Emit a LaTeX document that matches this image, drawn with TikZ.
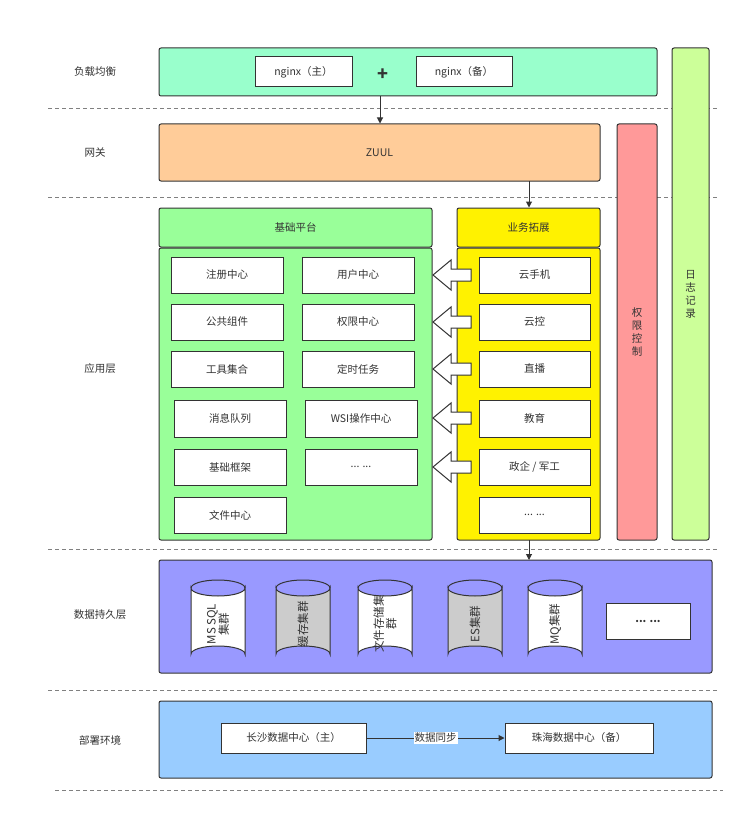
\documentclass[tikz,border=0pt]{standalone}
\usepackage{fontspec}
\setmainfont{Noto Sans CJK SC}
\usetikzlibrary{arrows.meta}
\definecolor{ln}{HTML}{333333}
\definecolor{tx}{HTML}{333333}
\tikzset{
 box/.style={draw=ln,line width=1pt,fill=white,text=tx,font=\fontsize{10.5}{12}\selectfont},
 panel/.style={draw=ln,line width=1pt,rounded corners=2pt},
 lab/.style={text=tx,font=\fontsize{10.5}{12}\selectfont},
 sep/.style={draw=gray,dash pattern=on 4pt off 3pt,line width=0.6pt},
 arr/.style={draw=ln,line width=1pt,-{Triangle[length=6pt,width=6pt]}},
 bar/.style={draw=ln,fill=white,line width=1pt}
}
\begin{document}
\begin{tikzpicture}[x=1pt,y=-1pt]
\useasboundingbox (0,0) rectangle (755,832);
% separators
\draw[sep] (48,108)--(718,108);
\draw[sep] (48,197)--(718,197);
\draw[sep] (48,549)--(718,549);
\draw[sep] (48,690)--(718,690);
\draw[sep] (55,790)--(723,790);
% layer labels
\node[lab] (l1) at (95,72) {负载均衡};
\node[lab] (l2) at (95,153) {网关};
\node[lab] (l3) at (100,369) {应用层};
\node[lab] (l4) at (100,615) {数据持久层};
\node[lab] (l5) at (100,740) {部署环境};
% load balancer
\draw[panel,fill={rgb,255:red,153;green,255;blue,204}] (159,48) rectangle (657,96);
\node[box,minimum width=97pt,minimum height=30pt] (n1) at (303.5,72) {nginx（主）};
\node[text=tx,font=\bfseries\fontsize{18}{18}\selectfont] (plus) at (383,75) {+};
\node[box,minimum width=96pt,minimum height=30pt] (n2) at (464,72) {nginx（备）};
% zuul
\node[panel,fill={rgb,255:red,255;green,204;blue,153},minimum width=441pt,minimum height=57pt,text=tx,font=\fontsize{10.5}{12}\selectfont] (zuul) at (379.5,152.5) {ZUUL};
\coordinate (lbb) at (380,96);
\draw[arr] (lbb) -- (lbb |- zuul.north);
% right bars
\node[panel,fill={rgb,255:red,255;green,153;blue,153},minimum width=40pt,minimum height=416pt,text=tx,font=\fontsize{10.5}{13}\selectfont,align=center] (qx) at (637,332) {权\\限\\控\\制};
\node[panel,fill={rgb,255:red,204;green,255;blue,153},minimum width=37pt,minimum height=492pt,text=tx,font=\fontsize{10.5}{13}\selectfont,align=center] (rz) at (690.5,294) {日\\志\\记\\录};
% app layer
\node[panel,fill={rgb,255:red,153;green,255;blue,153},minimum width=273pt,minimum height=39pt,text=tx,font=\fontsize{10.5}{12}\selectfont] (jc) at (295.5,227.5) {基础平台};
\draw[panel,fill={rgb,255:red,153;green,255;blue,153}] (159,248) rectangle (432,540);
\node[panel,fill=yellow,minimum width=143pt,minimum height=39pt,text=tx,font=\fontsize{10.5}{12}\selectfont] (yw) at (528.5,227.5) {业务拓展};
\draw[panel,fill=yellow] (457,248) rectangle (600,540);
\coordinate (zb) at (529,181);
\draw[arr] (zb) -- (zb |- yw.north);
% left boxes
\tikzset{sb/.style={box,minimum width=112pt,minimum height=36pt}}
\node[sb] (a1) at (227,275) {注册中心};
\node[sb] (a2) at (358,275) {用户中心};
\node[sb] (a3) at (227,322) {公共组件};
\node[sb] (a4) at (358,322) {权限中心};
\node[sb] (a5) at (227,369) {工具集合};
\node[sb] (a6) at (358,369) {定时任务};
\node[sb,minimum height=37pt] (a7) at (230,418.5) {消息队列};
\node[sb,minimum height=37pt] (a8) at (361,418.5) {WSI操作中心};
\node[sb] (a9) at (230,467) {基础框架};
\node[sb] (a10) at (361,467) {... ...};
\node[sb] (a11) at (230,515) {文件中心};
% right boxes
\tikzset{rbx/.style={box,minimum width=111pt,minimum height=36pt}}
\node[rbx] (b1) at (534.5,275) {云手机};
\node[rbx] (b2) at (534.5,322) {云控};
\node[rbx] (b3) at (534.5,369) {直播};
\node[rbx,minimum height=37pt] (b4) at (534.5,418.5) {教育};
\node[rbx] (b5) at (534.5,467) {政企 / 军工};
\node[rbx] (b6) at (534.5,515) {... ...};
% block arrows
\foreach \y in {275,322,369,418,467}
  \draw[bar] (433,\y) -- (451,\y-15) -- (451,\y-6) -- (471,\y-6) -- (471,\y+6) -- (451,\y+6) -- (451,\y+15) -- cycle;
% data layer
\draw[panel,fill={rgb,255:red,153;green,153;blue,255}] (159,560) rectangle (712,673);
\coordinate (ywb) at (529,540);
\draw[arr] (ywb) -- (529,560);
\foreach \cx/\fc/\t/\n in {218/white/{MS SQL\\集群}/1,303/{black!20}/缓存集群/2,385/white/{文件存储集\\群}/3,475/{black!20}/ES集群/4,555/white/MQ集群/5}{
  \draw[draw=ln,line width=1pt,fill=\fc] (\cx-27,588) -- (\cx-27,654) arc[start angle=180,end angle=360,x radius=27,y radius=8] -- (\cx+27,588) arc[start angle=0,end angle=180,x radius=27,y radius=8] -- cycle;
  \draw[draw=ln,line width=1pt] (\cx-27,588) arc[start angle=180,end angle=360,x radius=27,y radius=8];
  \node[text=tx,font=\fontsize{11.5}{12.5}\selectfont,rotate=90,align=center] (c\n) at (\cx,624) {\t};
}
\node[box,minimum width=84pt,minimum height=36pt,font=\bfseries\fontsize{10.5}{12}\selectfont] (more) at (648,621) {... ...};
% deploy
\draw[panel,fill={rgb,255:red,153;green,204;blue,255}] (159,701) rectangle (712,778);
\node[box,minimum width=145pt,minimum height=30pt] (cs) at (293.5,738) {长沙数据中心（主）};
\node[box,minimum width=148pt,minimum height=30pt] (zh) at (579,738) {珠海数据中心（备）};
\draw[arr] (cs) -- node[fill=white,inner sep=1pt,text=tx,font=\fontsize{10.5}{12}\selectfont] (sync) {数据同步} (zh);
\end{tikzpicture}
\end{document}
